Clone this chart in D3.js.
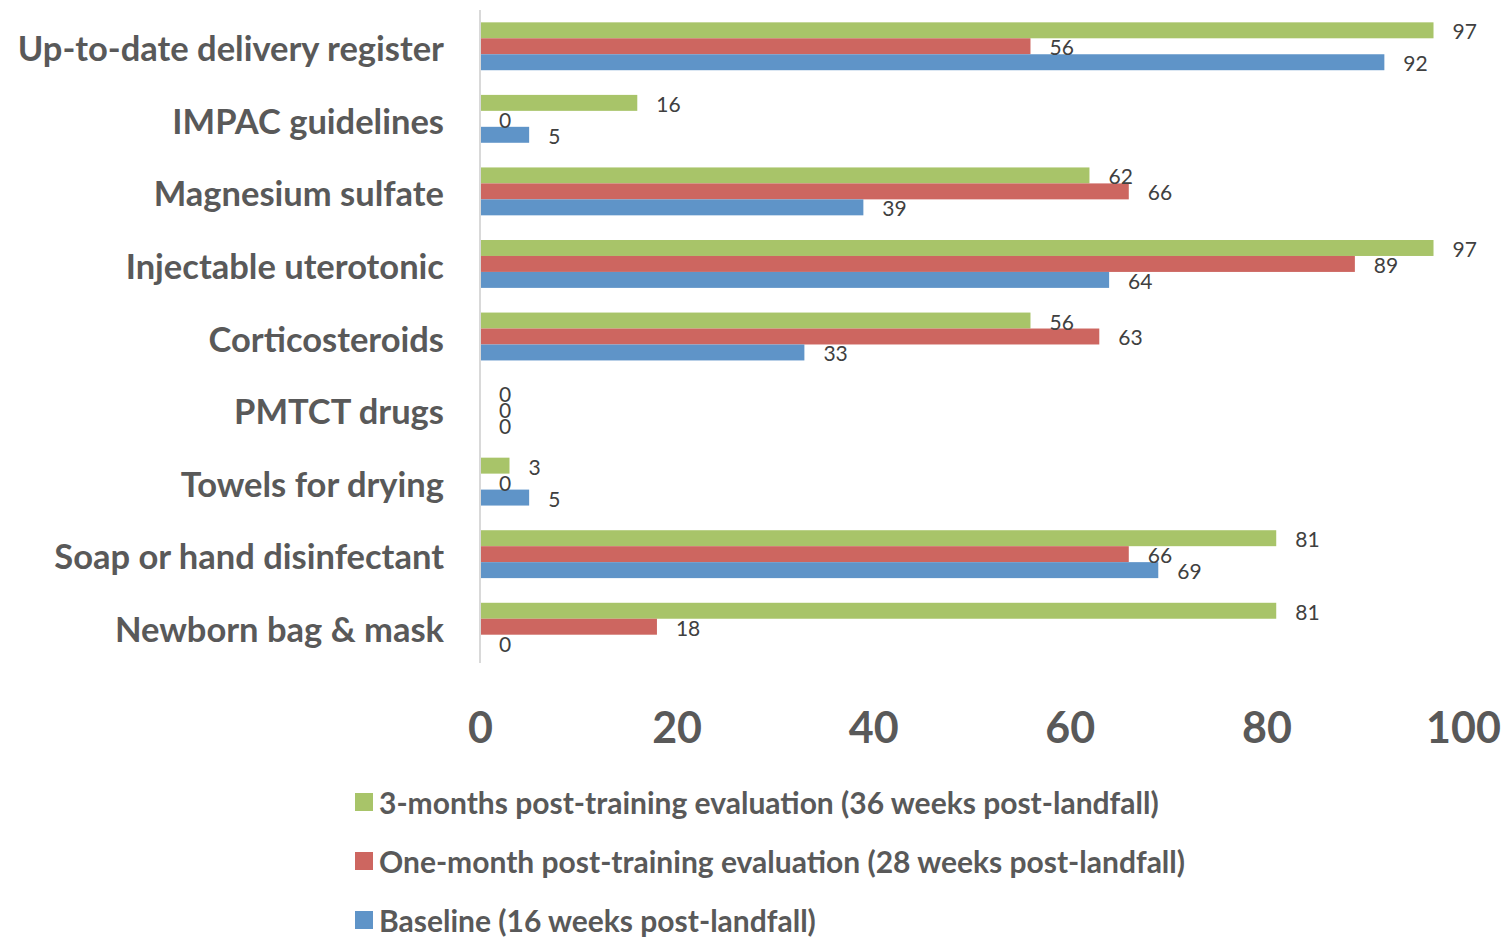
<!DOCTYPE html>
<html lang="en">
<head>
  <meta charset="utf-8">
  <title>Availability of supplies</title>
  <style>
    body { margin: 0; background: #fff; }
    text { font-family: Lato, "Open Sans", sans-serif; }
  </style>
</head>
<body>
<svg width="1502" height="937"></svg>
<script src="https://cdn.jsdelivr.net/npm/d3@7"></script>
<script>
  var categories = ["Up-to-date delivery register", "IMPAC guidelines", "Magnesium sulfate",
    "Injectable uterotonic", "Corticosteroids", "PMTCT drugs", "Towels for drying",
    "Soap or hand disinfectant", "Newborn bag & mask"];

  var threeMonths = [97, 16, 62, 97, 56, 0, 3, 81, 81];
  var oneMonth    = [56, 0, 66, 89, 63, 0, 0, 66, 18];
  var baseline    = [92, 5, 39, 64, 33, 0, 5, 69, 0];

  var seriesNames = ["3-months post-training evaluation (36 weeks post-landfall)",
    "One-month post-training evaluation (28 weeks post-landfall)",
    "Baseline (16 weeks post-landfall)"];
  var colors = ["#a8c469", "#cd6660", "#5f94c8"];
  var xTicks = [0, 20, 40, 60, 80, 100];

  var series = [threeMonths, oneMonth, baseline];

  var svg = d3.select("svg"),
      margin = {top: 10, right: 39, bottom: 274, left: 480},
      width = +svg.attr("width") - margin.left - margin.right,
      height = +svg.attr("height") - margin.top - margin.bottom;

  var x = d3.scaleLinear().domain([0, 100]).range([0, width]);
  var y = d3.scaleBand().domain(categories).range([0, height]).paddingInner(0.34).paddingOuter(0.17);
  var ySub = d3.scaleBand().domain([0, 1, 2]).range([0, y.bandwidth()]);

  var g = svg.append("g")
    .attr("transform", "translate(" + margin.left + "," + margin.top + ")");

  var rows = categories.map(function(c, i) {
    return series.map(function(s, k) { return {cat: c, k: k, v: s[i]}; });
  });

  var group = g.selectAll(".grp")
    .data(rows)
    .enter().append("g")
    .attr("class", "grp")
    .attr("transform", function(d, i) { return "translate(0," + y(categories[i]) + ")"; });

  group.selectAll("rect")
    .data(function(d) { return d; })
    .enter().append("rect")
    .attr("x", 0)
    .attr("y", function(d) { return ySub(d.k); })
    .attr("width", function(d) { return x(d.v); })
    .attr("height", ySub.bandwidth())
    .attr("fill", function(d) { return colors[d.k]; });

  group.selectAll("text")
    .data(function(d) { return d; })
    .enter().append("text")
    .attr("x", function(d) { return x(d.v) + 19; })
    .attr("y", function(d) { return ySub(d.k) + ySub.bandwidth() / 2 + 9; })
    .attr("fill", "#404040")
    .style("font-size", "21px")
    .text(function(d) { return d.v; });

  // category axis
  g.append("line")
    .attr("x1", 0).attr("x2", 0)
    .attr("y1", 0).attr("y2", height)
    .attr("stroke", "#d9d9d9")
    .attr("stroke-width", 2);

  g.selectAll(".cat")
    .data(categories)
    .enter().append("text")
    .attr("class", "cat")
    .attr("x", -36)
    .attr("y", function(d) { return y(d) + y.bandwidth() / 2 + 15; })
    .attr("text-anchor", "end")
    .attr("fill", "#595959")
    .style("font-size", "34.5px")
    .style("font-weight", "700")
    .text(function(d) { return d; });

  // value axis (labels only)
  var xAxis = g.append("g")
    .attr("transform", "translate(0," + height + ")")
    .call(d3.axisBottom(x).tickValues(xTicks).tickSize(0).tickPadding(0));
  xAxis.select(".domain").remove();
  xAxis.selectAll("text")
    .attr("y", 80)
    .attr("dy", 0)
    .attr("fill", "#595959")
    .style("font-family", "Lato, sans-serif")
    .style("font-size", "43px")
    .style("font-weight", "700");

  // legend
  var legend = svg.selectAll(".legend")
    .data(seriesNames)
    .enter().append("g")
    .attr("class", "legend")
    .attr("transform", function(d, i) { return "translate(355," + (793 + i * 59) + ")"; });

  legend.append("rect")
    .attr("width", 18).attr("height", 18)
    .attr("fill", function(d, i) { return colors[i]; });

  legend.append("text")
    .attr("x", 24)
    .attr("y", 21)
    .attr("fill", "#595959")
    .style("font-size", "30px")
    .style("font-weight", "700")
    .text(function(d) { return d; });
</script>
</body>
</html>
